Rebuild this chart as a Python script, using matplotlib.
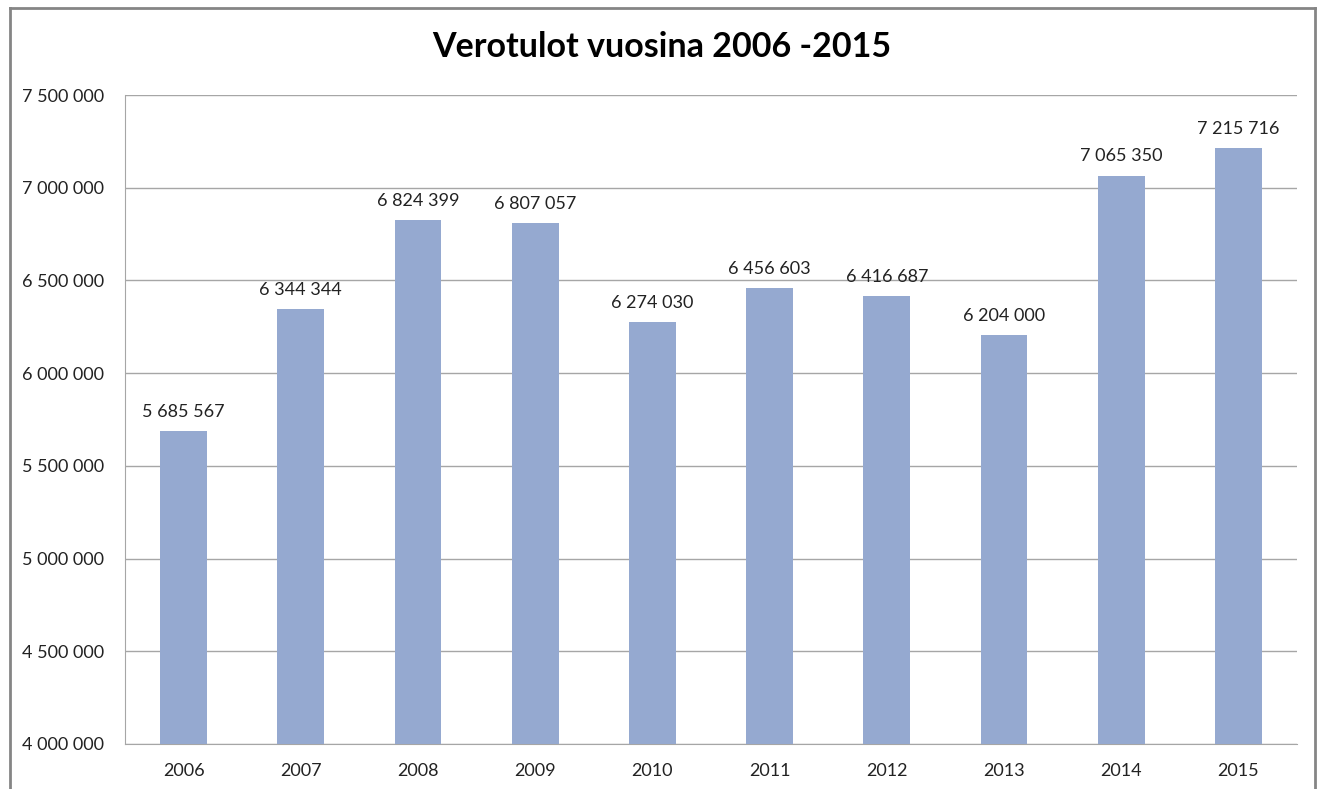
import matplotlib
matplotlib.use("Agg")
import matplotlib.pyplot as plt
from matplotlib.lines import Line2D

years = ["2006", "2007", "2008", "2009", "2010", "2011", "2012", "2013", "2014", "2015"]
values = [5685567, 6344344, 6824399, 6807057, 6274030, 6456603, 6416687, 6204000, 7065350, 7215716]
yticks = [4000000, 4500000, 5000000, 5500000, 6000000, 6500000, 7000000, 7500000]
title = "Verotulot vuosina 2006 -2015"

def fmt(v):
    return f"{v:,}".replace(",", " ")

plt.rcParams['font.family'] = ['Lato', 'DejaVu Sans']

W, H = 1320, 789
fig = plt.figure(figsize=(W / 100, H / 100), dpi=100)
fig.patch.set_facecolor("white")

# outer chart border (left, top, right)
bc = "#858585"
fig.add_artist(Line2D([10 / W, 10 / W], [0, 1 - 8 / H], transform=fig.transFigure, color=bc, lw=2))
fig.add_artist(Line2D([10 / W, 1315 / W], [1 - 8 / H, 1 - 8 / H], transform=fig.transFigure, color=bc, lw=2))
fig.add_artist(Line2D([1315 / W, 1315 / W], [0, 1 - 8 / H], transform=fig.transFigure, color=bc, lw=2))

ax = fig.add_axes([125 / W, 1 - 744 / H, (1297 - 125) / W, (744 - 95) / H])
x = list(range(len(years)))
ax.bar(x, values, width=0.4, color="#95A9D0", zorder=3)
ax.set_xlim(-0.5, len(years) - 0.5)
ax.set_ylim(4000000, 7500000)
ax.set_yticks(yticks)
ax.set_yticklabels([fmt(v) for v in yticks], fontsize=13, color="#222222")
ax.set_xticks(x)
ax.set_xticklabels(years, fontsize=13, color="#222222")
ax.tick_params(axis="x", length=0, pad=14)
ax.tick_params(axis="y", length=0, pad=15)
ax.grid(axis="y", color="#A6A6A6", lw=1, zorder=0)
for s in ["top", "right"]:
    ax.spines[s].set_visible(False)
ax.spines["left"].set_color("#A6A6A6")
ax.spines["bottom"].set_color("#A6A6A6")

for xi, v in zip(x, values):
    ax.annotate(fmt(v), (xi, v), xytext=(0, 8), textcoords="offset points",
                ha="center", va="bottom", fontsize=13, color="#222222")

fig.text(662 / W, 1 - 47 / H, title, ha="center", va="center", fontsize=24.5, fontweight="bold", color="black")

fig.savefig("out.png", dpi=100)
